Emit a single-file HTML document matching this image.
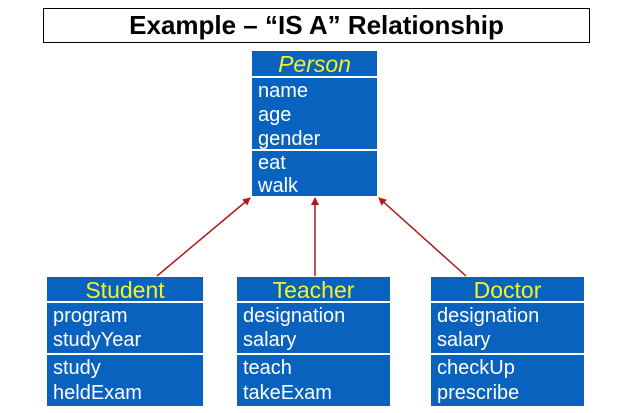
<!DOCTYPE html>
<html><head><style>
body{margin:0;width:632px;height:413px;background:#fff;position:relative;overflow:hidden;font-family:"Liberation Sans",sans-serif}
.t{position:absolute;left:43px;top:8px;width:545px;height:33px;border:1px solid #000;text-align:center;font-weight:bold;font-size:26px;line-height:33px;color:#000}
.b{position:absolute;background:#0a62bf;color:#fff;font-size:20px;line-height:24px;padding-left:6px;padding-top:1px;box-sizing:border-box;overflow:hidden}
.h{color:#f2f22a;text-align:center;padding-left:0;padding-top:0;font-size:23px;line-height:27px}
</style></head><body>
<div class="t">Example – “IS A” Relationship</div>

<div class="b h" style="left:252px;top:51px;width:125px;height:25px;font-style:italic">Person</div>
<div class="b" style="left:252px;top:78px;width:125px;height:71px;line-height:24px">name<br>age<br>gender</div>
<div class="b" style="left:252px;top:151px;width:125px;height:45px;line-height:23px">eat<br>walk</div>

<div class="b h" style="left:47px;top:277px;width:156px;height:24px">Student</div>
<div class="b" style="left:47px;top:303px;width:156px;height:50px">program<br>studyYear</div>
<div class="b" style="left:47px;top:355px;width:156px;height:51px;line-height:25px">study<br>heldExam</div>

<div class="b h" style="left:237px;top:277px;width:153px;height:24px">Teacher</div>
<div class="b" style="left:237px;top:303px;width:153px;height:50px">designation<br>salary</div>
<div class="b" style="left:237px;top:355px;width:153px;height:51px;line-height:25px">teach<br>takeExam</div>

<div class="b h" style="left:431px;top:277px;width:153px;height:24px">Doctor</div>
<div class="b" style="left:431px;top:303px;width:153px;height:50px">designation<br>salary</div>
<div class="b" style="left:431px;top:355px;width:153px;height:51px;line-height:25px">checkUp<br>prescribe</div>

<svg width="632" height="413" style="position:absolute;left:0;top:0">
<defs><marker id="a" markerWidth="8" markerHeight="8" refX="7" refY="4" orient="auto" markerUnits="userSpaceOnUse"><path d="M0,0 L8,4 L0,8 z" fill="#b01818"/></marker></defs>
<g stroke="#b01818" stroke-width="1.5" fill="none">
<line x1="157" y1="276" x2="250" y2="198" marker-end="url(#a)"/>
<line x1="315" y1="276" x2="315" y2="198" marker-end="url(#a)"/>
<line x1="466" y1="276" x2="379" y2="198" marker-end="url(#a)"/>
</g></svg>
</body></html>
